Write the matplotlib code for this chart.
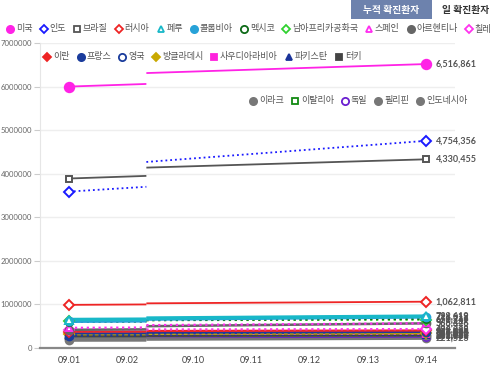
import matplotlib
matplotlib.use("Agg")
import matplotlib.pyplot as plt
from matplotlib.lines import Line2D
from matplotlib.patches import Rectangle

plt.rcParams['font.family'] = ['Noto Sans CJK KR', 'DejaVu Sans']

# ---------------- data ----------------
dates = ["09.01", "09.02", "09.10", "09.11", "09.12", "09.13", "09.14"]

countries = ["미국", "인도", "브라질", "러시아", "페루", "콜롬비아", "멕시코", "남아프리카공화국",
             "스페인", "아르헨티나", "칠레", "이란", "프랑스", "영국", "방글라데시", "사우디아라비아",
             "파키스탄", "터키", "이라크", "이탈리아", "독일", "필리핀", "인도네시아"]

# value at 09.01, end of first segment, start of second segment, value at 09.14
v_start = [6000000, 3590000, 3890000, 990000, 652037, 615168, 599560, 627041,
           462858, 417735, 413145, 375212, 286007, 337168, 314946, 315772,
           296590, 271705, 237731, 269214, 244802, 224264, 177571]
v_seg1_end = [6060000, 3700000, 3950000, 1000000, 660000, 625000, 606000, 628000,
              470000, 428000, 414000, 377000, 293000, 339000, 316000, 316000,
              297000, 273000, 242000, 271000, 246000, 227000, 180000]
v_seg2_start = [6310000, 4270000, 4140000, 1025000, 685000, 665000, 640000, 640000,
                525000, 500000, 425000, 390000, 330000, 352000, 328000, 321000,
                300000, 282000, 270000, 280000, 253000, 245000, 200000]
v_end = [6516861, 4754356, 4330455, 1062811, 729619, 716319, 671716, 650749,
         566326, 565446, 434748, 402029, 373911, 368504, 337520, 325050,
         302424, 291162, 302023, 287753, 261737, 265888, 221523]

# ---------------- styles ----------------
colors = ["#ff22e6", "#1a1aff", "#555555", "#ee2424", "#18b8c8", "#27a2d8", "#0d6a17", "#2fd12f",
          "#ff2cf0", "#666666", "#ff33ee", "#ee2424", "#1a3c9c", "#1a3c9c", "#c9a800", "#ff22dd",
          "#1a3399", "#444444", "#777777", "#128a12", "#6a1fd0", "#777777", "#777777"]
markers = ["o", "D", "s", "D", "^", "o", "o", "D", "^", "o", "D", "D", "o", "o", "D", "s",
           "^", "s", "o", "s", "o", "o", "o"]
filled = [True, False, False, False, False, True, False, False, False, True, False, True,
          True, False, True, True, True, True, True, False, False, True, True]
lstyles = ["-", ":", "-", "-", "-", "-", ":", ":", ":", "-", ":", "-", ":", "-", "-", ":",
           ":", "-", "-", ":", "-", "-", "-"]
lwidths = [1.3, 1.3, 1.3, 1.3, 2.6, 2.6, 1.6, 1.6, 1.6, 1.8, 1.6, 1.6, 1.6, 1.6, 1.6, 1.6,
           1.6, 1.8, 2.2, 1.6, 1.6, 2.2, 2.2]
msizes = [6.8, 4.6, 4.8, 4.6, 5.2, 5.6, 5, 4.6, 5, 5.6, 4.6, 4.6, 5.6, 5, 4.6, 4.6,
          5, 4.6, 5.6, 4.6, 5, 5.6, 5.6]

W, H = 500, 367
fig = plt.figure(figsize=(W / 100, H / 100), dpi=100)
ax = fig.add_axes([40 / W, 1 - 348 / H, (455 - 40) / W, (348 - 43) / H])

tick_pos = [0, 1, 2.14, 3.14, 4.14, 5.14, 6.14]
x_break = 1.33
x_first, x_last = tick_pos[0], tick_pos[-1]

order = list(range(len(countries)))[::-1]
for z, i in enumerate(order):
    c = colors[i]
    mfc = c if filled[i] else "white"
    ax.plot([x_first, x_break], [v_start[i], v_seg1_end[i]], color=c, ls=lstyles[i],
            lw=lwidths[i], zorder=3 + z * 0.01, solid_capstyle="butt")
    ax.plot([x_break, x_last], [v_seg2_start[i], v_end[i]], color=c, ls=lstyles[i],
            lw=lwidths[i], zorder=3 + z * 0.01, solid_capstyle="butt")
    ax.plot([x_first, x_last], [v_start[i], v_end[i]], ls="none", marker=markers[i],
            ms=msizes[i], mfc=mfc, mec=c, mew=1.4, zorder=4 + z * 0.01)
    ax.annotate(f"{v_end[i]:,}", (x_last, v_end[i]), xytext=(7, 0), textcoords="offset points",
                va="center", ha="left", fontsize=6.5, color="#555555", fontweight="bold",
                family=["Lato", "DejaVu Sans"], annotation_clip=False, zorder=6)

ax.set_xlim(-0.5, 6.64)
ax.set_ylim(0, 7000000)
ax.set_xticks(tick_pos)
ax.set_xticklabels(dates, family=["Lato", "DejaVu Sans"], fontsize=6.5, color="#444444")
yt = list(range(0, 7000001, 1000000))
ax.set_yticks(yt)
ax.set_yticklabels([str(v) for v in yt], family=["Lato", "DejaVu Sans"], fontsize=5.6,
                   color="#666666")
ax.tick_params(axis="x", length=0, pad=6)
ax.tick_params(axis="y", length=4.5, color="#cccccc", width=0.8, pad=1)
ax.grid(axis="y", color="#eeeeee", lw=1)
ax.set_axisbelow(True)
for s in ["top", "right"]:
    ax.spines[s].set_visible(False)
ax.spines["left"].set_color("#e6e6e6")
ax.spines["bottom"].set_color("#888888")
ax.spines["bottom"].set_linewidth(1.6)

# ---------------- legend (manual rows) ----------------
renderer = fig.canvas.get_renderer()


def legend_row(idx_list, x0, y0):
    x = x0
    for i in idx_list:
        c = colors[i]
        mfc = c if filled[i] else "white"
        m = markers[i]
        ms = 5.2 if m == "o" else 4.0
        fig.add_artist(Line2D([x / W], [1 - y0 / H], marker=m, ms=ms, mfc=mfc, mec=c,
                              mew=1.3, ls="none", transform=fig.transFigure))
        t = fig.text((x + 6) / W, 1 - y0 / H, countries[i], fontsize=6.5, color="#555555",
                     va="center", ha="left")
        bb = t.get_window_extent(renderer)
        x = x + 6 + bb.width + 11


legend_row(list(range(0, 11)), 10, 29)
legend_row(list(range(11, 18)), 47, 57)
legend_row(list(range(18, 23)), 253, 101)

# ---------------- buttons ----------------
fig.add_artist(Rectangle((351 / W, 1 - 19 / H), 81 / W, 19 / H, transform=fig.transFigure,
                         facecolor="#6d82ad", edgecolor="none"))
fig.text(391.5 / W, 1 - 10 / H, "누적 확진환자", color="white", fontsize=7, fontweight="bold",
         ha="center", va="center")
fig.text(466 / W, 1 - 10 / H, "일 확진환자", color="#333333", fontsize=7, fontweight="bold",
         ha="center", va="center")

fig.savefig("out.png", dpi=100)
